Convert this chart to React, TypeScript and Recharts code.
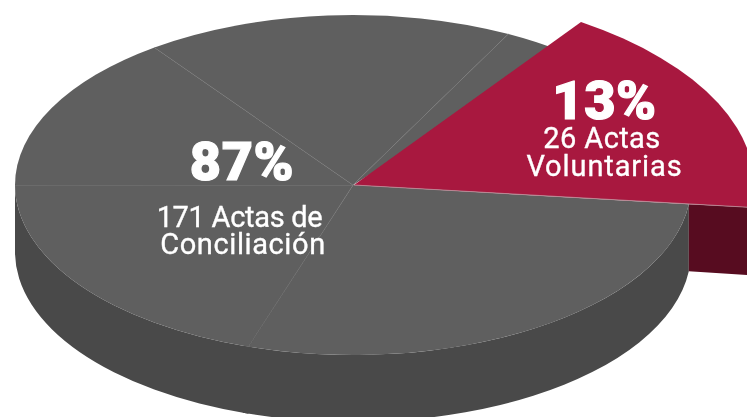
import { PieChart, Pie, Cell } from 'recharts';

// slices, in % of the full turn, clockwise from the lower red edge
const sliceNames = ['Conciliación A', 'Conciliación B', 'Conciliación C', 'Conciliación D', 'Conciliación E', 'Voluntarias'];
const sliceValues = [28.2, 20, 15, 17.6, 2, 17.2];
const data = sliceNames.map((name, i) => ({ name, value: sliceValues[i] }));

const grayLabel = ['87%', '171 Actas de', 'Conciliación'];
const redLabel = ['13%', '26 Actas', 'Voluntarias'];

const GRAY = '#5f5f5f';
const GRAY_SIDE = '#494949';
const RED = '#a8183f';
const RED_SIDE = '#570c20';
const DEPTH = 67;
const SQUASH = 170 / 338;
const RED_RX = 400;
const RED_RY = 198;
const RED_SHIFT = 1;
const RED_INDEX = 5;

const RAD = Math.PI / 180;

function point(cx: number, cy: number, rx: number, ry: number, deg: number) {
  return { x: cx + rx * Math.cos(deg * RAD), y: cy - ry * Math.sin(deg * RAD) };
}

// top face of a slice, flattened to an ellipse
function TopFace(props: any) {
  const { cx, cy, outerRadius, startAngle, endAngle, index } = props;
  const isRed = index === RED_INDEX;
  const rx = isRed ? RED_RX : outerRadius;
  const ry = isRed ? RED_RY : outerRadius * SQUASH;
  const x0 = isRed ? cx + RED_SHIFT : cx;
  // the last gray slice runs on under the red one
  const end = index === RED_INDEX - 1 ? endAngle - 4 : endAngle;
  const a = point(x0, cy, rx, ry, startAngle);
  const b = point(x0, cy, rx, ry, end);
  const large = Math.abs(startAngle - end) > 180 ? 1 : 0;
  const d = `M${x0},${cy} L${a.x},${a.y} A${rx},${ry} 0 ${large} 1 ${b.x},${b.y} Z`;
  return (
    <g>
      <path d={d} fill={isRed ? RED : GRAY} stroke="none" />
      {index < RED_INDEX - 1 && (
        <line x1={x0} y1={cy} x2={b.x} y2={b.y} stroke={index === 0 ? 'url(#fadeLine)' : '#868686'} strokeWidth={0.7} />
      )}
      {isRed && <line x1={x0} y1={cy} x2={b.x} y2={b.y} stroke="#b98a96" strokeWidth={0.8} />}
    </g>
  );
}

// side wall: the cut face for the red slice, the outer rim for the gray ones
function SideFace(props: any) {
  const { cx, cy, outerRadius, startAngle, endAngle, index } = props;
  const rx = outerRadius;
  const ry = outerRadius * SQUASH;
  if (index === RED_INDEX) {
    // the face only shows past the gray rim
    const a = point(cx, cy, rx, ry, endAngle);
    const b = point(cx + RED_SHIFT, cy, RED_RX, RED_RY, endAngle);
    return (
      <path
        d={`M${a.x},${a.y} L${b.x},${b.y} L${b.x},${b.y + DEPTH + 1} L${a.x},${a.y + DEPTH} Z`}
        fill={RED_SIDE}
        stroke="none"
      />
    );
  }
  // only what lies on the front half shows
  const hi = Math.min(startAngle, 0);
  const lo = Math.max(endAngle - 1, -180);
  if (hi <= lo) return <g />;
  const a = point(cx, cy, rx, ry, hi);
  const b = point(cx, cy, rx, ry, lo);
  const d = `M${a.x},${a.y} A${rx},${ry} 0 0 1 ${b.x},${b.y} L${b.x},${b.y + DEPTH} A${rx},${ry} 0 0 0 ${a.x},${a.y + DEPTH} Z`;
  return <path d={d} fill={GRAY_SIDE} stroke="none" />;
}

const labelFont = 'Roboto, sans-serif';
const bigText = {
  fontFamily: labelFont,
  fontWeight: 900,
  fontSize: 54,
  fill: '#fff',
  stroke: '#fff',
  strokeWidth: 1.2,
  letterSpacing: 0.6,
  textAnchor: 'middle',
} as const;
const smallText = {
  fontFamily: labelFont,
  fontWeight: 400,
  fontSize: 29,
  fill: '#fff',
  stroke: '#fff',
  strokeWidth: 0.35,
  textAnchor: 'middle',
} as const;

export default function App() {
  return (
    <div style={{ position: 'fixed', left: 0, top: 0, width: 747, height: 417, overflow: 'hidden' }}>
      <PieChart width={747} height={417} margin={{ top: 0, right: 0, bottom: 0, left: 0 }}>
        <defs>
          <linearGradient id="fadeLine" gradientUnits="userSpaceOnUse" x1="353" y1="185" x2="249" y2="346">
            <stop offset="0" stopColor="#8a8a8a" />
            <stop offset="0.5" stopColor="#6a6a6a" />
            <stop offset="1" stopColor="#505050" />
          </linearGradient>
        </defs>
        <Pie
          data={data}
          dataKey="value"
          nameKey="name"
          cx={353}
          cy={185}
          outerRadius={338}
          startAngle={-6.5}
          endAngle={-366.5}
          shape={SideFace}
          stroke="none"
          isAnimationActive={false}
        />
        <Pie
          data={data}
          dataKey="value"
          nameKey="name"
          cx={353}
          cy={185}
          outerRadius={338}
          startAngle={-6.5}
          endAngle={-366.5}
          shape={TopFace}
          stroke="none"
          isAnimationActive={false}
        >
          {data.map((d, i) => (
            <Cell key={d.name} fill={i === RED_INDEX ? RED : GRAY} />
          ))}
        </Pie>
      </PieChart>
      <svg width={747} height={417} style={{ position: 'absolute', left: 0, top: 0 }}>
        <text x={242} y={180} {...bigText}>{grayLabel[0]}</text>
        <text x={239.5} y={227} letterSpacing={-0.3} {...smallText}>{grayLabel[1]}</text>
        <text x={243} y={254} letterSpacing={0.6} {...smallText}>{grayLabel[2]}</text>
        <text x={604.5} y={119} {...bigText}>{redLabel[0]}</text>
        <text x={602} y={148} letterSpacing={0.4} {...smallText}>{redLabel[1]}</text>
        <text x={604.5} y={176} letterSpacing={0.9} {...smallText}>{redLabel[2]}</text>
      </svg>
    </div>
  );
}
